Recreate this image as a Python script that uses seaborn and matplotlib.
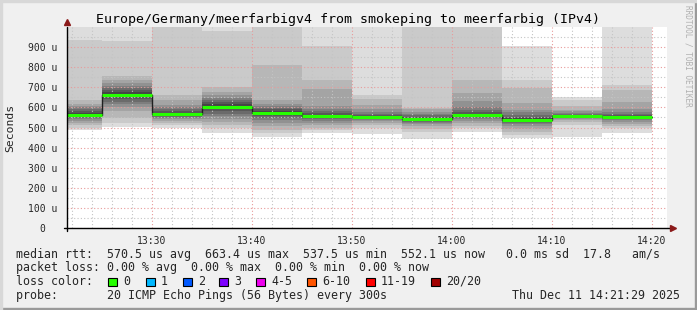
import numpy as np
import pandas as pd
import matplotlib
matplotlib.use("Agg")
import matplotlib.pyplot as plt
from matplotlib.patches import Rectangle
from matplotlib.ticker import FixedLocator, FuncFormatter
import seaborn as sns

W, H = 697, 310

# ---------------- data ----------------
# 5-minute steps, start time in minutes after 13:00
seg_start = [20, 25, 30, 35, 40, 45, 50, 55, 60, 65, 70, 75]
seg_minutes = 5
# median round-trip time per step (microseconds)
median_rtt = [562, 663.4, 565, 603, 574, 557, 551, 542, 562, 537.5, 557, 552.1]

# sorted 20 ping values per step (microseconds)
p_1320 = [488, 500, 512, 522, 530, 540, 548, 553, 558, 561, 564, 570, 580, 592, 600, 607, 615, 637, 935, 1050]
p_1325 = [502, 524, 547, 580, 600, 615, 628, 640, 650, 658, 668, 675, 685, 695, 705, 720, 736, 756, 932, 1050]
p_1330 = [497, 510, 522, 532, 540, 548, 553, 558, 561, 563, 567, 572, 580, 590, 600, 612, 635, 662, 1100, 1150]
p_1335 = [474, 497, 510, 525, 540, 555, 568, 580, 590, 598, 608, 615, 625, 635, 645, 660, 675, 700, 980, 1100]
p_1340 = [454, 474, 490, 505, 520, 535, 548, 558, 566, 571, 577, 583, 590, 598, 605, 615, 637, 811, 1050, 1100]
p_1345 = [472, 488, 500, 512, 522, 532, 540, 547, 552, 555, 559, 563, 570, 580, 592, 605, 690, 736, 905, 1100]
p_1350 = [470, 497, 510, 520, 530, 537, 542, 546, 549, 550, 552, 555, 560, 567, 575, 590, 612, 640, 662, 1100]
p_1355 = [443, 478, 495, 505, 515, 522, 528, 533, 537, 540, 544, 548, 553, 560, 568, 578, 590, 597, 1050, 1100]
p_1400 = [479, 497, 508, 520, 530, 540, 547, 553, 558, 561, 564, 568, 575, 585, 600, 630, 670, 736, 1050, 1100]
p_1405 = [448, 462, 478, 492, 505, 515, 522, 528, 532, 535, 540, 545, 552, 562, 575, 587, 622, 697, 736, 903]
p_1410 = [454, 512, 525, 535, 542, 548, 551, 554, 556, 557, 558, 560, 563, 567, 572, 580, 587, 605, 637, 653]
p_1415 = [472, 497, 508, 518, 527, 535, 540, 545, 549, 551, 553, 556, 560, 566, 575, 590, 628, 686, 711, 1100]
pings = [p_1320, p_1325, p_1330, p_1335, p_1340, p_1345,
         p_1350, p_1355, p_1400, p_1405, p_1410, p_1415]

y_ticks = [0, 100, 200, 300, 400, 500, 600, 700, 800, 900]
x_ticks = [30, 40, 50, 60, 70, 80]

loss_labels = ["0", "1", "2", "3", "4-5", "6-10", "11-19", "20/20"]
loss_colors = ["#26ff00", "#00b8ff", "#0059ff", "#7e00ff", "#ee00ee", "#ff5500", "#ff0000", "#a10000"]

title = "Europe/Germany/meerfarbigv4 from smokeping to meerfarbig (IPv4)"
line_rtt = "median rtt:  570.5 us avg  663.4 us max  537.5 us min  552.1 us now   0.0 ms sd  17.8   am/s"
line_loss = "packet loss: 0.00 % avg  0.00 % max  0.00 % min  0.00 % now"
line_probe = "probe:       20 ICMP Echo Pings (56 Bytes) every 300s"
stamp = "Thu Dec 11 14:21:29 2025"

# ---------------- figure ----------------
sns.set_style("white")
MONO = ["DejaVu Sans Mono"]
plt.rcParams["font.family"] = MONO

fig = plt.figure(figsize=(W / 100, H / 100), dpi=100, facecolor="#f0f0f0")

def px_text(x, y, s, **kw):
    kw.setdefault("family", MONO)
    return fig.text(x / W, 1 - y / H, s, **kw)

# frame shading
fig.patches.append(Rectangle((0, 0), 1, 2 / H, transform=fig.transFigure, color="#9a9a9a", zorder=0))
fig.patches.append(Rectangle((1 - 2 / W, 0), 2 / W, 1, transform=fig.transFigure, color="#9a9a9a", zorder=0))
fig.patches.append(Rectangle((0, 1 - 2 / H), 1, 2 / H, transform=fig.transFigure, color="#d8d8d8", zorder=0))
fig.patches.append(Rectangle((0, 0), 2 / W, 1, transform=fig.transFigure, color="#d8d8d8", zorder=0))

ax = fig.add_axes([67 / W, (H - 228) / H, 600 / W, 201 / H])
ax.set_facecolor("white")

# smoke bands: pair (i, 21-i) of sorted pings, darker toward the median
half = 10
for start, p in zip(seg_start, pings):
    for k in range(half):
        g = int(190 / half * (half - (k + 1))) + 50
        col = "#%02x%02x%02x" % (g, g, g)
        ax.bar(start, p[19 - k] - p[k], bottom=p[k], width=seg_minutes, align="edge",
               color=col, linewidth=0, zorder=1)

# median line (black step) with green loss-colour overlay
df = pd.DataFrame({"t": seg_start + [seg_start[-1] + seg_minutes],
                   "rtt": median_rtt + [median_rtt[-1]]})
sns.lineplot(data=df, x="t", y="rtt", drawstyle="steps-post", color="#202020",
             linewidth=1.0, estimator=None, ax=ax, zorder=4)
ax.hlines(median_rtt, seg_start, [s + seg_minutes for s in seg_start],
          color=loss_colors[0], linewidth=2.2, zorder=5)

ax.set_xlim(21.5, 81.5)
ax.set_ylim(0, 1000)
ax.set_xlabel("")
ax.set_ylabel("")

ax.xaxis.set_major_locator(FixedLocator(x_ticks))
ax.xaxis.set_minor_locator(FixedLocator(np.arange(22, 82, 2)))
ax.yaxis.set_major_locator(FixedLocator(y_ticks))
ax.yaxis.set_minor_locator(FixedLocator(np.arange(50, 1000, 100)))
ax.xaxis.set_major_formatter(FuncFormatter(lambda v, _: f"{13 + int(v) // 60}:{int(v) % 60:02d}"))
ax.yaxis.set_major_formatter(FuncFormatter(lambda v, _: "0  " if v == 0 else f"{int(v)} u"))

ax.set_axisbelow(False)
ax.grid(True, which="minor", color="#c4c4c4", linestyle=(0, (1, 2)), linewidth=0.8)
ax.grid(True, which="major", color="#e89a9a", linestyle=(0, (1, 2)), linewidth=0.8)

for s in ax.spines.values():
    s.set_visible(False)

ax.tick_params(axis="both", which="major", length=3, width=0.8, color="black",
               labelsize=7, direction="out")
ax.tick_params(axis="both", which="minor", length=2, width=0.6, color="#444444", direction="out")
ax.tick_params(axis="y", which="major", pad=3.6)
ax.tick_params(axis="x", which="major", pad=2.5)

# axes lines with arrows
ax.plot([-3 / 600, 1 + 3 / 600], [0, 0], transform=ax.transAxes, color="black",
        linewidth=1, clip_on=False, zorder=6)
ax.plot([0, 0], [-3 / 201, 1.0], transform=ax.transAxes, color="black",
        linewidth=1, clip_on=False, zorder=6)
ax.plot([1 + 6 / 600], [0], transform=ax.transAxes, marker=">", markersize=4.5,
        color="#8b1a1a", clip_on=False, zorder=7)
ax.plot([0], [1 + 5 / 201], transform=ax.transAxes, marker="^", markersize=4.5,
        color="#8b1a1a", clip_on=False, zorder=7)

# texts
px_text(348, 19, title, ha="center", va="center", fontsize=9.5, color="#000000")
px_text(10, 128, "Seconds", ha="center", va="center", rotation=90, fontsize=8.2)
px_text(688, 5, "RRDTOOL / TOBI OETIKER", ha="center", va="top", rotation=270,
        fontsize=5.6, color="#b0b0b0")

px_text(16, 254.5, line_rtt, ha="left", va="center", fontsize=8.4)
px_text(16, 268, line_loss, ha="left", va="center", fontsize=8.4)
px_text(16, 281.5, "loss color:", ha="left", va="center", fontsize=8.4)
box_x = [108, 146, 183, 219, 256, 307, 366, 431]
for bx, lab, col in zip(box_x, loss_labels, loss_colors):
    fig.patches.append(Rectangle((bx / W, 1 - 286 / H), 8.5 / W, 8.5 / H,
                                 transform=fig.transFigure, facecolor=col,
                                 edgecolor="black", linewidth=0.8, zorder=3))
    px_text(bx + 15, 281.5, lab, ha="left", va="center", fontsize=8.4)
px_text(16, 295.5, line_probe, ha="left", va="center", fontsize=8.4)
px_text(680, 295.5, stamp, ha="right", va="center", fontsize=8.4)

fig.savefig("out.png", dpi=100, facecolor=fig.get_facecolor())
